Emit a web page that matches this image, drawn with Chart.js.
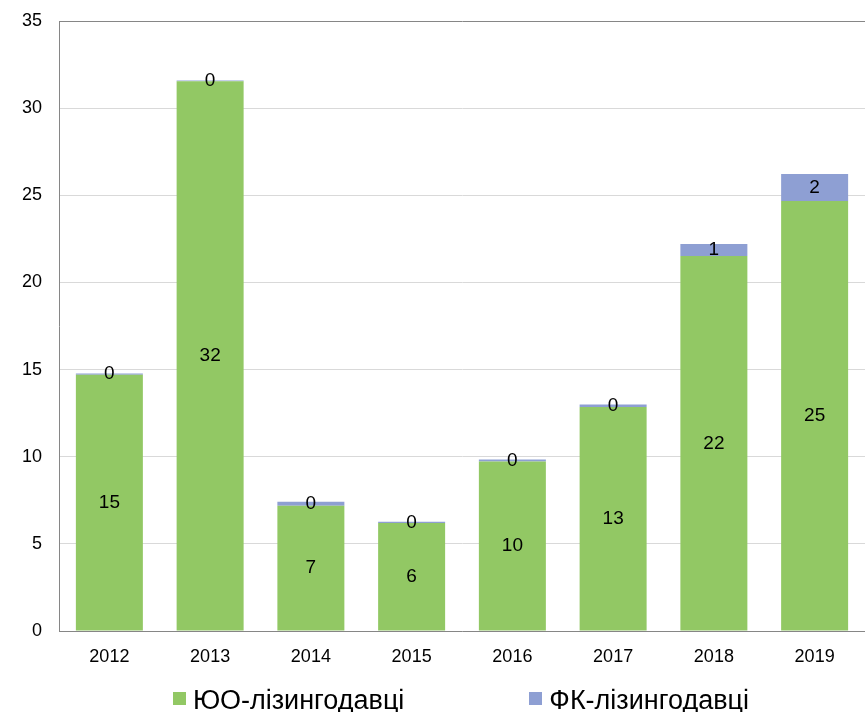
<!DOCTYPE html>
<html>
<head>
<meta charset="utf-8">
<script src="https://cdn.jsdelivr.net/npm/chart.js@4/dist/chart.umd.min.js"></script>
<style>
  html, body { margin: 0; padding: 0; background: #fff; }
  #wrap { position: relative; width: 865px; height: 712px; }
  #legend {
    position: absolute; top: 687px; left: 173px; height: 27px;
    display: flex; align-items: center;
    font: 27px 'Liberation Sans', Arial, sans-serif; line-height: 27px; color: #000;
  }
  #legend .item { display: flex; align-items: center; margin-right: 125px; white-space: nowrap; }
  #legend .box { width: 13px; height: 13px; margin-right: 7px; position: relative; top: -2px; }
</style>
</head>
<body>
<div id="wrap">
  <canvas id="leasingChart" width="865" height="712"></canvas>
  <div id="legend"></div>
</div>
<script>
const years = ['2012', '2013', '2014', '2015', '2016', '2017', '2018', '2019']
const legalEntities = [14.7, 31.55, 7.19, 6.2, 9.72, 12.85, 21.51, 24.67]
const financialCompanies = [0.08, 0.04, 0.23, 0.07, 0.12, 0.14, 0.69, 1.55]
const yTicks = [0, 5, 10, 15, 20, 25, 30, 35]

const FONT = 'Liberation Sans, Arial, sans-serif'

// draws the rounded value in the middle of every bar segment
const barLabels = {
  id: 'barLabels',
  afterDatasetsDraw(chart) {
    const ctx = chart.ctx
    ctx.save()
    ctx.font = '19px ' + FONT
    ctx.fillStyle = '#000'
    ctx.textAlign = 'center'
    ctx.textBaseline = 'middle'
    chart.data.datasets.forEach((ds, i) => {
      chart.getDatasetMeta(i).data.forEach((bar, j) => {
        const y = (bar.y + bar.base) / 2
        ctx.fillText(String(Math.round(ds.data[j])), bar.x, y)
      })
    })
    ctx.restore()
  }
}

const chart = new Chart(document.getElementById('leasingChart'), {
  type: 'bar',
  data: {
    labels: years,
    datasets: [{
      label: 'ЮО-лізингодавці',
      data: legalEntities,
      backgroundColor: '#92C864',
      barPercentage: 0.665,
      categoryPercentage: 1
    },
    {
      label: 'ФК-лізингодавці',
      data: financialCompanies,
      backgroundColor: '#8E9FD3',
      barPercentage: 0.665,
      categoryPercentage: 1
    }]
  },
  options: {
    responsive: false,
    animation: false,
    layout: {
      padding: { top: 21, right: 0, bottom: 0, left: 0 }
    },
    plugins: {
      legend: { display: false },
      tooltip: { enabled: false }
    },
    scales: {
      x: {
        stacked: true,
        afterFit(scale) { scale.height = 81 },
        grid: { display: false, drawTicks: false },
        border: { color: '#868686', width: 1 },
        ticks: {
          font: { family: FONT, size: 18 },
          color: '#000',
          padding: 15
        }
      },
      y: {
        stacked: true,
        min: 0,
        max: 35,
        afterFit(scale) {
          scale.width = 59
          scale.paddingTop = 0
          scale.paddingBottom = 0
        },
        afterBuildTicks(scale) { scale.ticks = yTicks.map((v) => ({ value: v })) },
        grid: {
          color: (c) => c.tick && c.tick.value === 35 ? '#868686' : '#d9d9d9',
          drawTicks: false
        },
        border: { color: '#868686', width: 1 },
        ticks: {
          font: { family: FONT, size: 18 },
          color: '#000',
          padding: 17
        }
      }
    }
  },
  plugins: [barLabels]
})

// legend built from the chart's own datasets
const legendEl = document.getElementById('legend')
chart.data.datasets.forEach((ds) => {
  const item = document.createElement('div')
  item.className = 'item'
  const box = document.createElement('span')
  box.className = 'box'
  box.style.background = ds.backgroundColor
  item.appendChild(box)
  item.appendChild(document.createTextNode(ds.label))
  legendEl.appendChild(item)
})
</script>
</body>
</html>
